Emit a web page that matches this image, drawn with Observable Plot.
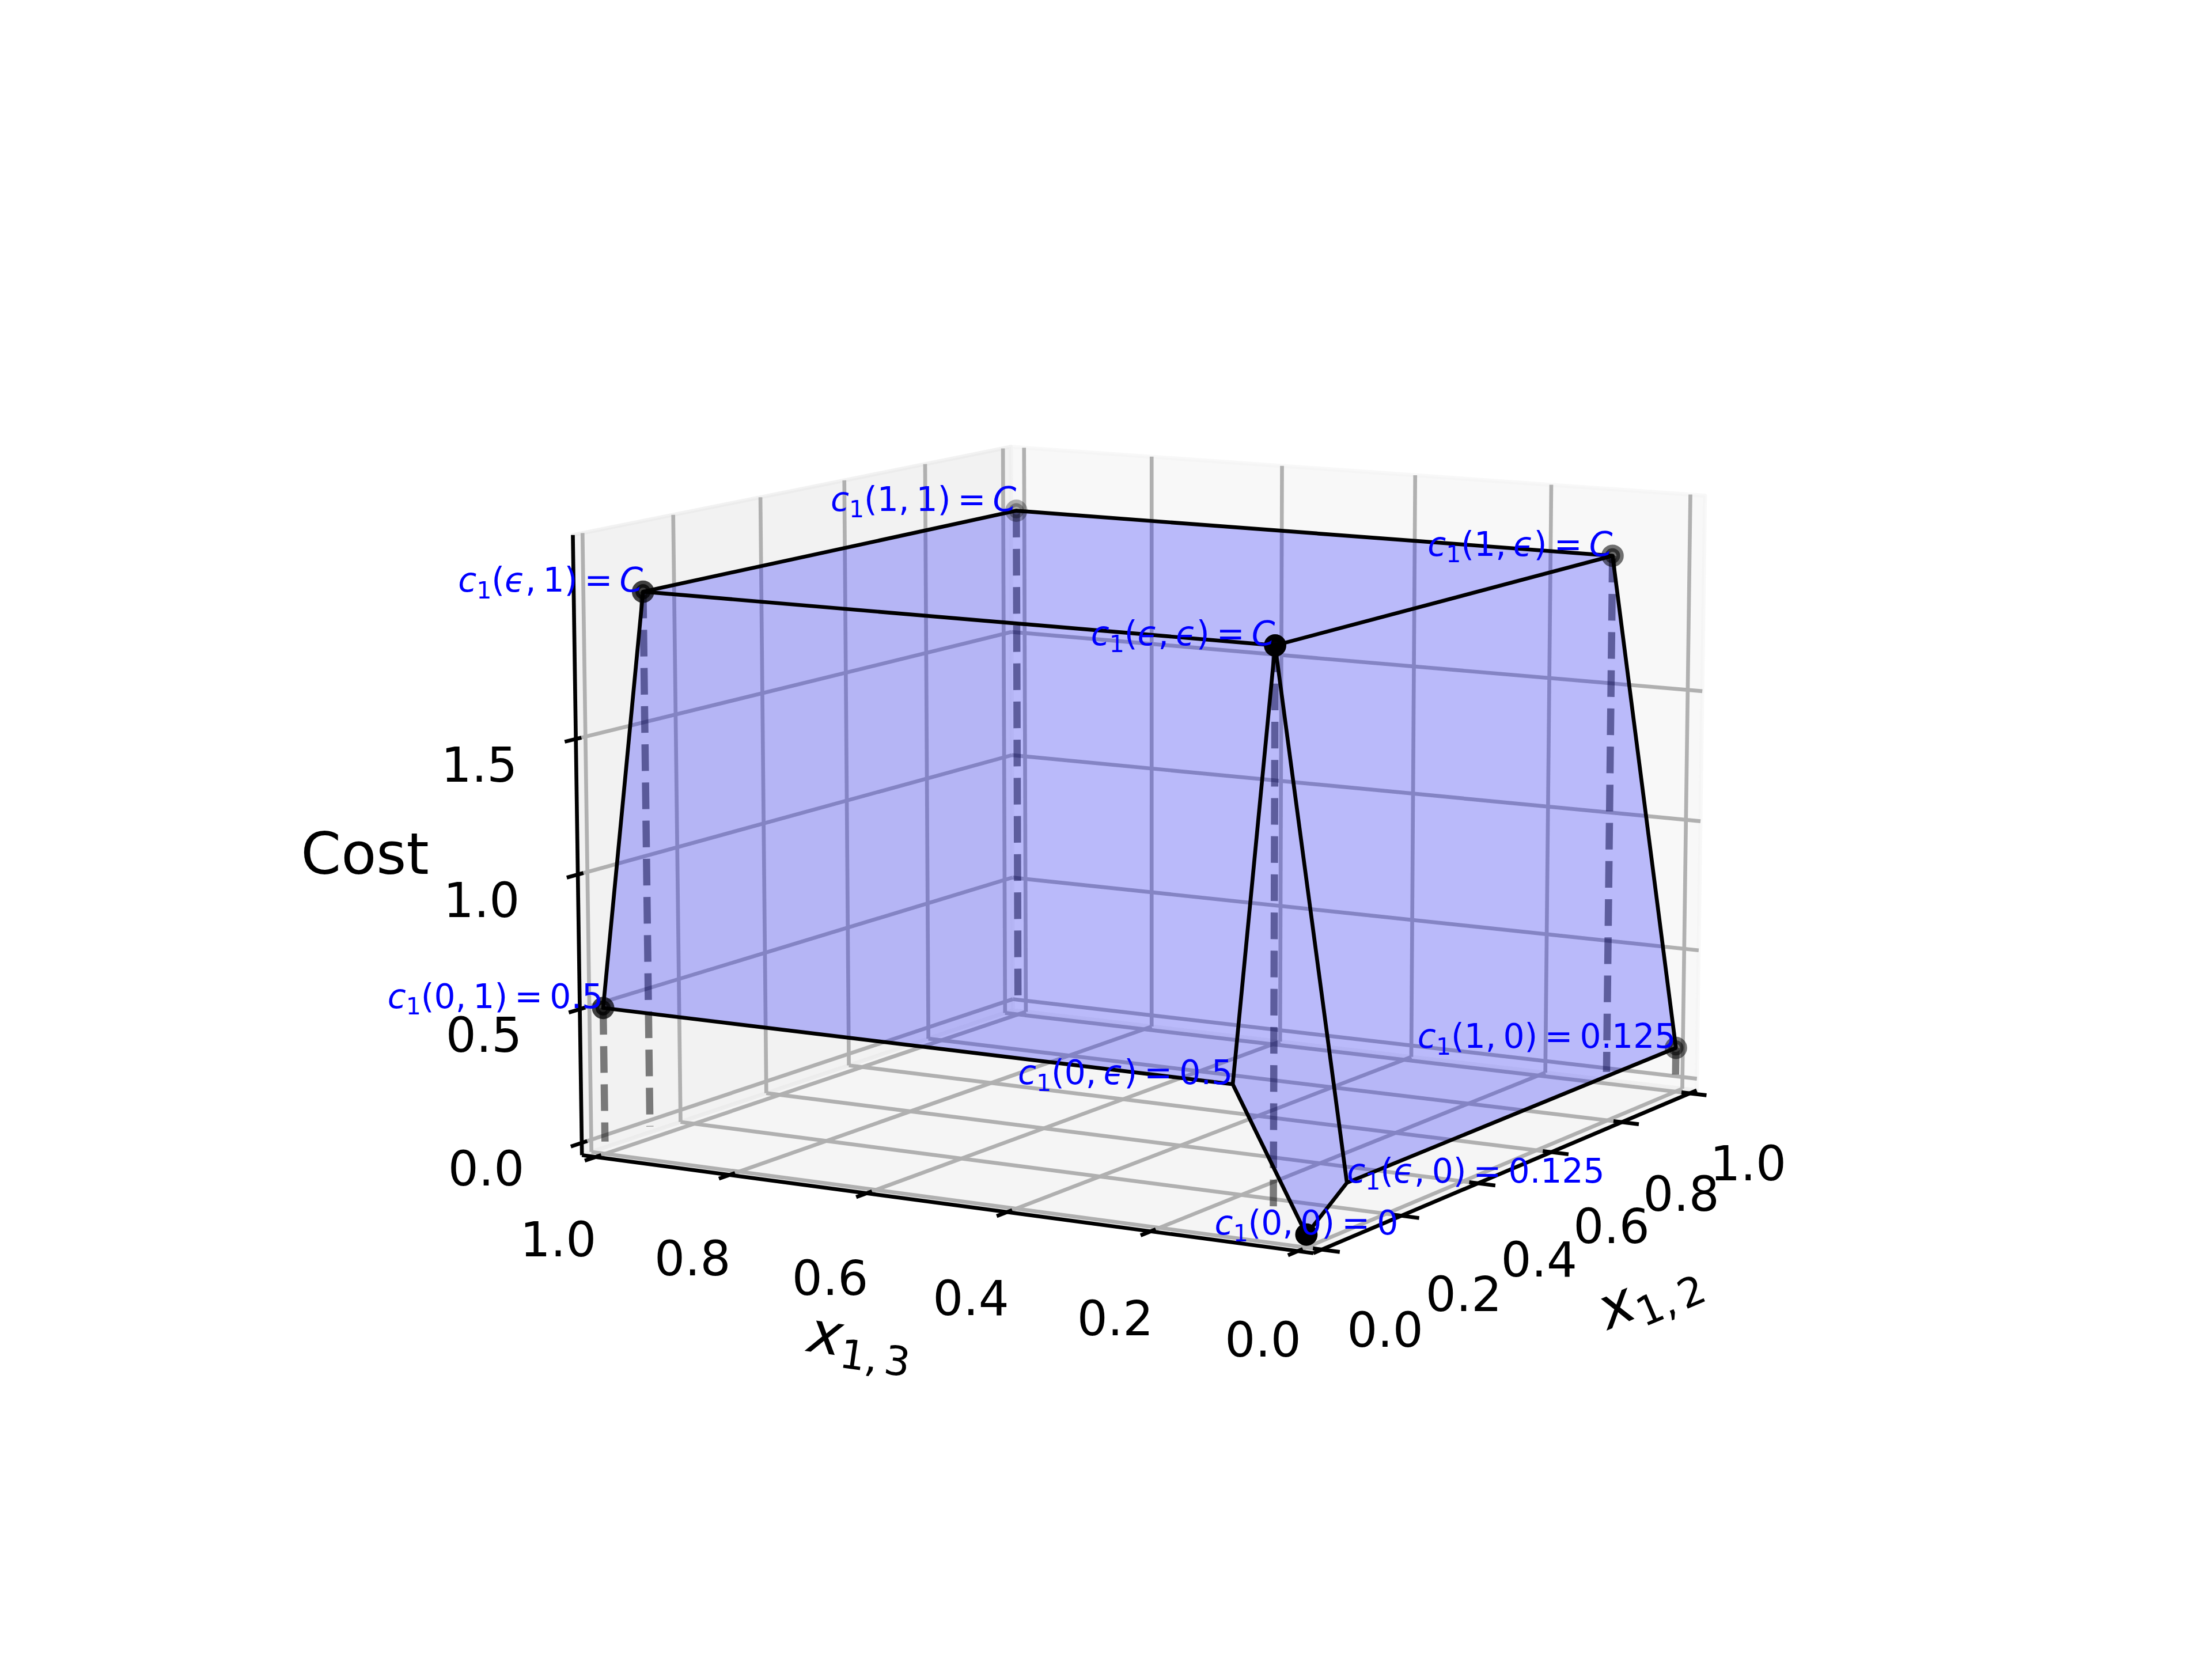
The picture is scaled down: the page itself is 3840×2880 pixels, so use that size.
<!DOCTYPE html>
<html><head><meta charset="utf-8">
<script src="https://cdn.jsdelivr.net/npm/d3@7"></script>
<script src="https://cdn.jsdelivr.net/npm/@observablehq/plot@0.6"></script>
<style>html,body{margin:0;padding:0;background:#fff}</style>
</head><body><div id="chart"></div>
<script>
const EPS = 0.1, C = 2;
const vertexX12 = [0, EPS, 1, 0, 0, EPS, EPS, 1, 1];
const vertexX13 = [0, 0, 0, EPS, 1, EPS, 1, EPS, 1];
const vertexCost = [0, 0.125, 0.125, 0.5, 0.5, C, C, C, C];
const vertexLabels = ["c_1(0, 0) = 0", "c_1(ϵ, 0) = 0.125", "c_1(1, 0) = 0.125", "c_1(0, ϵ) = 0.5", "c_1(0, 1) = 0.5", "c_1(ϵ, ϵ) = C", "c_1(ϵ, 1) = C", "c_1(1, ϵ) = C", "c_1(1, 1) = C"];
const labelAnchors = ["middle", "start", "end", "end", "end", "end", "end", "end", "end"];
const dotVertices = [0, 2, 4, 5, 6, 7, 8];
const dashVertices = [2, 4, 5, 6, 7, 8];
const faces = [[4, 3, 5, 6], [5, 1, 2, 7], [5, 6, 8, 7], [0, 1, 5, 3]];
const edges = [[4, 3, 0, 1, 2, 7, 5, 6, 4], [3, 5, 1], [6, 8, 7]];
const x12Ticks = [0, 0.2, 0.4, 0.6, 0.8, 1];
const x13Ticks = [0, 0.2, 0.4, 0.6, 0.8, 1];
const costTicks = [0, 0.5, 1, 1.5];
const x12Lim = [0, 1], x13Lim = [0, 1], costLim = [0, 2.2];
const elev = 10, azim = -150, dist = 10;

// matplotlib-style 3D camera
const margin = lim => { const d = (lim[1] - lim[0]) / 48; return [lim[0] - d, lim[1] + d]; };
const LX = margin(x12Lim), LY = margin(x13Lim), LZ = margin(costLim);
const k = 1.8294640721620434 * 25 / 24 / Math.hypot(4, 4, 3);
const box = [4 * k, 4 * k, 3 * k];
const el = elev * Math.PI / 180, az = azim * Math.PI / 180;
const n = [Math.cos(el) * Math.cos(az), Math.cos(el) * Math.sin(az), Math.sin(el)];
const ul = Math.hypot(n[0], n[1]);
const u = [-n[1] / ul, n[0] / ul, 0];
const v = [n[1] * u[2] - n[2] * u[1], n[2] * u[0] - n[0] * u[2], n[0] * u[1] - n[1] * u[0]];
const dot3 = (a, b) => a[0] * b[0] + a[1] * b[1] + a[2] * b[2];
function rel(x, y, z) {
  return [(x - LX[0]) / (LX[1] - LX[0]) * box[0] - box[0] / 2,
          (y - LY[0]) / (LY[1] - LY[0]) * box[1] - box[1] / 2,
          (z - LZ[0]) / (LZ[1] - LZ[0]) * box[2] - box[2] / 2];
}
function P(x, y, z, extra = {}) {
  const p = rel(x, y, z), d = dist - dot3(n, p);
  return {px: dot3(u, p) / d, py: dot3(v, p) / d, depth: dot3(n, p), ...extra};
}
const vertex = i => [vertexX12[i], vertexX13[i], vertexCost[i]];
const [x0, x1] = LX, [y0, y1] = LY, [z0, z1] = LZ;

// panes
const pane = (g, corners, color) => corners.map(c => P(...c, {g, color}));
const panes = [
  ...pane("y", [[x0, y1, z0], [x1, y1, z0], [x1, y1, z1], [x0, y1, z1], [x0, y1, z0]], "#e6e6e6"),
  ...pane("x", [[x1, y0, z0], [x1, y1, z0], [x1, y1, z1], [x1, y0, z1], [x1, y0, z0]], "#f2f2f2"),
  ...pane("z", [[x0, y0, z0], [x1, y0, z0], [x1, y1, z0], [x0, y1, z0], [x0, y0, z0]], "#ececec")
];
// grid
const grid = [];
const seg = (arr, id, a, b) => arr.push(P(...a, {g: id}), P(...b, {g: id}));
x12Ticks.forEach((t, i) => { seg(grid, "xa" + i, [t, y0, z0], [t, y1, z0]); seg(grid, "xb" + i, [t, y1, z0], [t, y1, z1]); });
x13Ticks.forEach((t, i) => { seg(grid, "ya" + i, [x0, t, z0], [x1, t, z0]); seg(grid, "yb" + i, [x1, t, z0], [x1, t, z1]); });
costTicks.forEach((t, i) => { seg(grid, "za" + i, [x0, y1, t], [x1, y1, t]); seg(grid, "zb" + i, [x1, y0, t], [x1, y1, t]); });
// axes + ticks
const axes = [];
seg(axes, "ax", [x0, y0, z0], [x1, y0, z0]);
seg(axes, "ay", [x0, y0, z0], [x0, y1, z0]);
seg(axes, "az", [x0, y1, z0], [x0, y1, z1]);
const tOut = 0.024, tIn = 0.012;
x12Ticks.forEach((t, i) => seg(axes, "tx" + i, [t, y0 - tOut, z0], [t, y0 + tIn, z0]));
x13Ticks.forEach((t, i) => seg(axes, "ty" + i, [x0 - tOut, t, z0], [x0 + tIn, t, z0]));
costTicks.forEach((t, i) => seg(axes, "tz" + i, [x0 - tOut, y1, t], [x0 + tIn, y1, t]));
// tick labels
const tickFmt = d3.format(".1f");
const xLab = x12Ticks.map(t => P(t, y0 - 0.085, z0 - 0.26 + 0.008 * t, {s: tickFmt(t)}));
const yLab = x13Ticks.map(t => P(x0 - 0.084, t, z0 - 0.265, {s: tickFmt(t)}));
const zLab = costTicks.map(t => P(x0 - 0.166, y1 + 0.028, t * 0.9855 - 0.015, {s: tickFmt(t)}));
const axisLabels = [
  {...P(0.5, y0 - 0.186, z0 - 0.40), s: "x_{1, 2}", rotate: -23},
  {...P(x0 - 0.174, 0.5, z0 - 0.39), s: "x_{1, 3}", rotate: 8},
  {...P(x0 - 0.372, y1 + 0.05, 1.23), s: "Cost", rotate: 0}
];
// surface
const faceData = faces.flatMap((f, i) => [...f, f[0]].map(j => P(...vertex(j), {g: i})));
const edgeData = edges.flatMap((e, i) => e.map(j => P(...vertex(j), {g: i})));
const dashData = dashVertices.flatMap(j => { const [a, b, c] = vertex(j); return [P(a, b, c, {g: j}), P(a, b, 0, {g: j})]; });
const dd = dotVertices.map(j => P(...vertex(j)));
const dmin = d3.min(dd, d => d.depth), dmax = d3.max(dd, d => d.depth);
dd.forEach(d => d.a = 0.3 + 0.7 * (d.depth - dmin) / (dmax - dmin));
const labelData = vertexLabels.map((s, j) => P(...vertex(j), {s, anchor: labelAnchors[j]}));

const pt = 600 / 72;
const font = "DejaVu Sans";
const xy = {x: "px", y: "py"};
const plot = Plot.plot({
  width: 3840, height: 2880, margin: 0,
  style: {background: "#fff", fontFamily: font},
  x: {domain: [-0.095, 0.09], range: [859.2, 3076.8], axis: null},
  y: {domain: [-0.095, 0.09], range: [2563.2, 345.6], axis: null},
  opacity: {type: "identity"},
  marks: [
    Plot.line(panes, {...xy, z: "g", fill: "color", fillOpacity: 0.5, stroke: "color", strokeOpacity: 0.5, strokeWidth: 0.8 * pt, curve: "linear"}),
    Plot.line(grid, {...xy, z: "g", stroke: "#b0b0b0", strokeWidth: 0.8 * pt, strokeLinecap: "butt"}),
    Plot.line(axes, {...xy, z: "g", stroke: "#000", strokeWidth: 0.8 * pt, strokeLinecap: "butt"}),
    Plot.text(xLab, {...xy, text: "s", fontSize: 10 * pt, fill: "#000", textAnchor: "middle", lineAnchor: "middle"}),
    Plot.text(yLab, {...xy, text: "s", fontSize: 10 * pt, fill: "#000", textAnchor: "middle", lineAnchor: "middle"}),
    Plot.text(zLab, {...xy, text: "s", fontSize: 10 * pt, fill: "#000", textAnchor: "middle", lineAnchor: "middle"}),
    Plot.text(axisLabels, {...xy, text: "s", fontSize: 12 * pt, fill: "#000", rotate: "rotate", textAnchor: "middle", lineAnchor: "middle", className: "alabel"}),
    Plot.line(dashData, {...xy, z: "g", stroke: "#000", strokeOpacity: 0.5, strokeWidth: 1.5 * pt, strokeDasharray: `${3.7 * 1.5 * pt},${1.6 * 1.5 * pt}`, strokeLinecap: "butt"}),
    Plot.line(faceData, {...xy, z: "g", fill: "#0000ff", fillOpacity: 0.25, stroke: "none"}),
    Plot.dot(dd, {...xy, r: 1.58 * pt, fill: "#000", fillOpacity: "a", stroke: "#000", strokeOpacity: "a", strokeWidth: 1.5 * pt}),
    Plot.line(edgeData, {...xy, z: "g", stroke: "#000", strokeWidth: 0.8 * pt, strokeLinejoin: "miter"}),
    ...["start", "middle", "end"].map(anchor => Plot.text(labelData.filter(d => d.anchor === anchor), {...xy, text: "s", fontSize: 7 * pt, fill: "#0000ff", textAnchor: anchor, lineAnchor: "bottom", className: "vlabel"}))
  ]
});
// math typesetting of text that holds a subscript, kept as real text
const SVGNS = "http://www.w3.org/2000/svg";
plot.querySelectorAll("text").forEach(t => {
  const s = t.textContent;
  const m = s.match(/^(\w)_\{?([^}(]+)\}?(.*)$/);
  if (!m) return;
  t.textContent = "";
  const add = (txt, attrs = {}) => {
    const e = document.createElementNS(SVGNS, "tspan");
    e.textContent = txt;
    for (const a in attrs) e.setAttribute(a, attrs[a]);
    t.appendChild(e);
  };
  const holder = t.closest("[font-size]");
  const fs = holder ? parseFloat(holder.getAttribute("font-size")) : 7 * pt;
  add(m[1], {"font-style": "italic"});
  add(m[2], {dy: 0.2 * fs, "font-size": 0.7 * fs});
  if (m[3]) {
    m[3].split(/(ϵ|C)/).filter(Boolean).forEach((part, i) => {
      const attrs = /ϵ|C/.test(part) ? {"font-style": "italic"} : {};
      if (i === 0) attrs.dy = -0.2 * fs;
      add(part, attrs);
    });
  }
  t.style.wordSpacing = "-0.11em";
});
document.getElementById("chart").appendChild(plot);
</script>
</body></html>
